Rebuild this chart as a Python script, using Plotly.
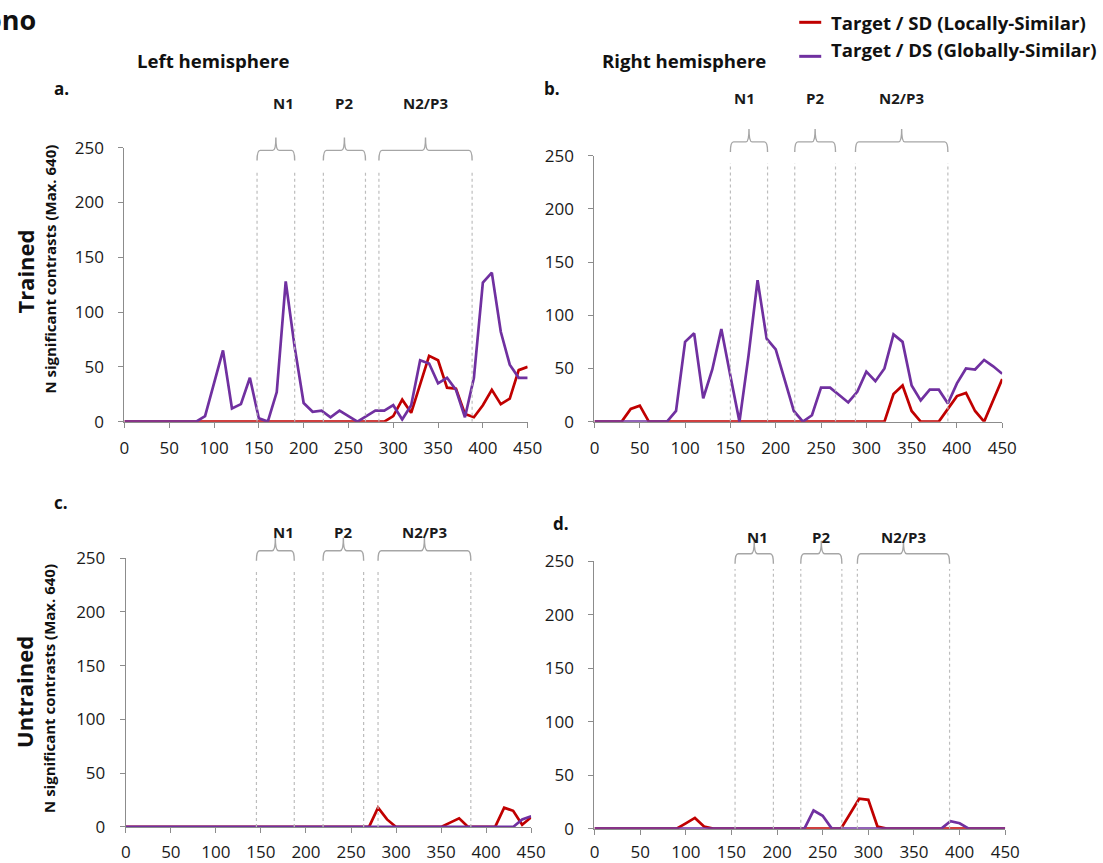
import plotly.graph_objects as go

# Time axis (ms after stimulus onset)
time_ms = [0, 10, 20, 30, 40, 50, 60, 70, 80, 90,
           100, 110, 120, 130, 140, 150, 160, 170, 180, 190,
           200, 210, 220, 230, 240, 250, 260, 270, 280, 290,
           300, 310, 320, 330, 340, 350, 360, 370, 380, 390,
           400, 410, 420, 430, 440, 450]

# a. Trained, left hemisphere
a_sd = [0, 0, 0, 0, 0, 0, 0, 0, 0, 0,
        0, 0, 0, 0, 0, 0, 0, 0, 0, 0,
        0, 0, 0, 0, 0, 0, 0, 0, 0, 0,
        5, 20, 8, 33, 60, 56, 31, 30, 7, 4,
        15, 29, 16, 21, 47, 50]
a_ds = [0, 0, 0, 0, 0, 0, 0, 0, 0, 5,
        35, 65, 12, 16, 40, 3, 0, 27, 128, 68,
        17, 9, 10, 4, 10, 5, 0, 5, 10, 10,
        15, 2, 15, 56, 53, 35, 40, 29, 4, 40,
        127, 136, 82, 52, 40, 40]

# b. Trained, right hemisphere
b_sd = [0, 0, 0, 0, 12, 15, 0, 0, 0, 0,
        0, 0, 0, 0, 0, 0, 0, 0, 0, 0,
        0, 0, 0, 0, 0, 0, 0, 0, 0, 0,
        0, 0, 0, 26, 34, 10, 0, 0, 0, 12,
        24, 27, 10, 0, 20, 40]
b_ds = [0, 0, 0, 0, 0, 0, 0, 0, 0, 10,
        75, 83, 22, 49, 87, 43, 0, 62, 133, 78,
        68, 39, 10, 0, 6, 32, 32, 25, 18, 28,
        47, 38, 50, 82, 75, 34, 20, 30, 30, 17,
        36, 50, 49, 58, 52, 45]

# c. Untrained, left hemisphere
c_sd = [0, 0, 0, 0, 0, 0, 0, 0, 0, 0,
        0, 0, 0, 0, 0, 0, 0, 0, 0, 0,
        0, 0, 0, 0, 0, 0, 0, 0, 18, 7,
        0, 0, 0, 0, 0, 0, 4, 8, 0, 0,
        0, 0, 18, 15, 2, 9]
c_ds = [0, 0, 0, 0, 0, 0, 0, 0, 0, 0,
        0, 0, 0, 0, 0, 0, 0, 0, 0, 0,
        0, 0, 0, 0, 0, 0, 0, 0, 0, 0,
        0, 0, 0, 0, 0, 0, 0, 0, 0, 0,
        0, 0, 0, 0, 7, 10]

# d. Untrained, right hemisphere
d_sd = [0, 0, 0, 0, 0, 0, 0, 0, 0, 0,
        5, 10, 2, 0, 0, 0, 0, 0, 0, 0,
        0, 0, 0, 0, 0, 0, 0, 0, 14, 28,
        27, 2, 0, 0, 0, 0, 0, 0, 0, 0,
        0, 0, 0, 0, 0, 0]
d_ds = [0, 0, 0, 0, 0, 0, 0, 0, 0, 0,
        0, 0, 0, 0, 0, 0, 0, 0, 0, 0,
        0, 0, 0, 0, 17, 12, 0, 0, 0, 0,
        0, 0, 0, 0, 0, 0, 0, 0, 0, 7,
        5, 0, 0, 0, 0, 0]

# ERP component windows (ms) per panel
component_names = ["N1", "P2", "N2/P3"]
a_windows = [(148, 190), (222, 269), (284, 388)]
b_windows = [(150, 191), (221, 266), (288, 390)]
c_windows = [(145, 187), (219, 264), (280, 383)]
d_windows = [(154, 196), (226, 271), (288, 389)]

x_ticks = [0, 50, 100, 150, 200, 250, 300, 350, 400, 450]
y_ticks = [0, 50, 100, 150, 200, 250]

series_names = ["Target / SD (Locally-Similar)", "Target / DS (Globally-Similar)"]
RED = "#C00000"
PURPLE = "#7030A0"

# figure canvas and the page-space layout grid (positions below are page pixels)
W, H = 1120, 877
SX, OX = 0.982, 3.9
SY, OY = 0.973, 11.7
FONT = "Open Sans"


def px_x(p):
    return (p - OX) / SX / W


def px_y(p):
    return 1 - (p - OY) / SY / H


panels = [
    dict(ax="", sd=a_sd, ds=a_ds, win=a_windows, xd=(123.3, 526.5), yd=(147.3, 421),
         br=150, lab=103, top=229, n1shift=8, xstand=6),
    dict(ax="2", sd=b_sd, ds=b_ds, win=b_windows, xd=(593.3, 1001), yd=(155.3, 421),
         br=141.5, lab=98, top=243, n1shift=-4, xstand=6),
    dict(ax="3", sd=c_sd, ds=c_ds, win=c_windows, xd=(124.7, 530), yd=(557.5, 826),
         br=550, lab=531, top=240, n1shift=8, xstand=5),
    dict(ax="4", sd=d_sd, ds=d_ds, win=d_windows, xd=(593.3, 1004), yd=(560.7, 827.7),
         br=553, lab=536, top=243, n1shift=3, xstand=3),
]

fig = go.Figure()
shapes = []
annotations = []
layout_axes = {}

for p in panels:
    xa = "x" + p["ax"]
    ya = "y" + p["ax"]
    fig.add_trace(go.Scatter(x=time_ms, y=p["sd"], mode="lines", name=series_names[0],
                             line=dict(color=RED, width=2.7), xaxis=xa, yaxis=ya,
                             cliponaxis=False, showlegend=False))
    fig.add_trace(go.Scatter(x=time_ms, y=p["ds"], mode="lines", name=series_names[1],
                             line=dict(color=PURPLE, width=2.7), xaxis=xa, yaxis=ya,
                             cliponaxis=False, showlegend=False))

    common = dict(showgrid=False, zeroline=False, showline=True, linecolor="#8c8c8c",
                  linewidth=1.2, ticks="outside", ticklen=5, tickcolor="#8c8c8c",
                  tickwidth=1.2, tickfont=dict(family=FONT, size=17, color="#1a1a1a"))
    layout_axes["xaxis" + p["ax"]] = dict(
        common, domain=[px_x(p["xd"][0]), px_x(p["xd"][1])], range=[0, 450],
        tickvals=x_ticks, anchor=ya, ticklabelstandoff=p["xstand"])
    layout_axes["yaxis" + p["ax"]] = dict(
        common, domain=[px_y(p["yd"][1]), px_y(p["yd"][0])], range=[0, 250],
        tickvals=y_ticks, anchor=xa, ticklabelstandoff=11)

    # dotted window boundaries and curly brackets above each window
    yb = px_y(p["br"])
    hook = 10 / SY / H
    tip = 13 / SY / H
    r = 3.5
    for name, (w0, w1) in zip(component_names, p["win"]):
        for xv in (w0, w1):
            shapes.append(dict(type="line", xref=xa, yref=ya, x0=xv, x1=xv, y0=0, y1=p["top"],
                               line=dict(color="#bdbdbd", width=1.2, dash="dot")))
        mid = (w0 + w1) / 2
        path = (f"M {w0},{yb - hook} Q {w0},{yb} {w0 + r},{yb} L {mid - r},{yb} "
                f"Q {mid},{yb} {mid},{yb + tip} Q {mid},{yb} {mid + r},{yb} "
                f"L {w1 - r},{yb} Q {w1},{yb} {w1},{yb - hook}")
        shapes.append(dict(type="path", xref=xa, yref="paper", path=path,
                           line=dict(color="#a6a6a6", width=1.4)))
        annotations.append(dict(x=mid, xref=xa, y=px_y(p["lab"]), yref="paper", text=name,
                                showarrow=False, xanchor="center", yanchor="middle",
                                xshift=p["n1shift"] if name == "N1" else 0,
                                font=dict(family=FONT, size=15, color="#1a1a1a", weight="bold")))


def text(x, y, s, size, anchor="center", angle=0, bold=True):
    annotations.append(dict(x=px_x(x), y=px_y(y), xref="paper", yref="paper", text=s,
                            showarrow=False, xanchor=anchor, yanchor="middle", textangle=angle,
                            font=dict(family=FONT, size=size, color="#111111",
                                      weight="bold" if bold else "normal")))


text(37, 19, "ono", 27, anchor="right")
text(212, 60, "Left hemisphere", 18.6)
text(683, 60, "Right hemisphere", 18.6)
text(60, 88, "a.", 17)
text(551, 88, "b.", 17)
text(60, 502, "c.", 17)
text(560, 523, "d.", 17)
text(23, 271, "Trained", 22, angle=-90)
text(48, 269, "N significant contrasts (Max. 640)", 15, angle=-90)
text(23, 691, "Untrained", 22, angle=-90)
text(48, 688, "N significant contrasts (Max. 640)", 15, angle=-90)

# legend
for name, col, ly, ty in [(series_names[0], RED, 22, 22),
                          (series_names[1], PURPLE, 56, 49)]:
    shapes.append(dict(type="line", xref="paper", yref="paper", x0=px_x(798), x1=px_x(820),
                       y0=px_y(ly), y1=px_y(ly), line=dict(color=col, width=3)))
    text(828, ty, name, 18.6, anchor="left")

fig.update_layout(width=W, height=H, margin=dict(l=0, r=0, t=0, b=0),
                  paper_bgcolor="white", plot_bgcolor="white",
                  shapes=shapes, annotations=annotations, **layout_axes)

fig.write_html("out.html")
